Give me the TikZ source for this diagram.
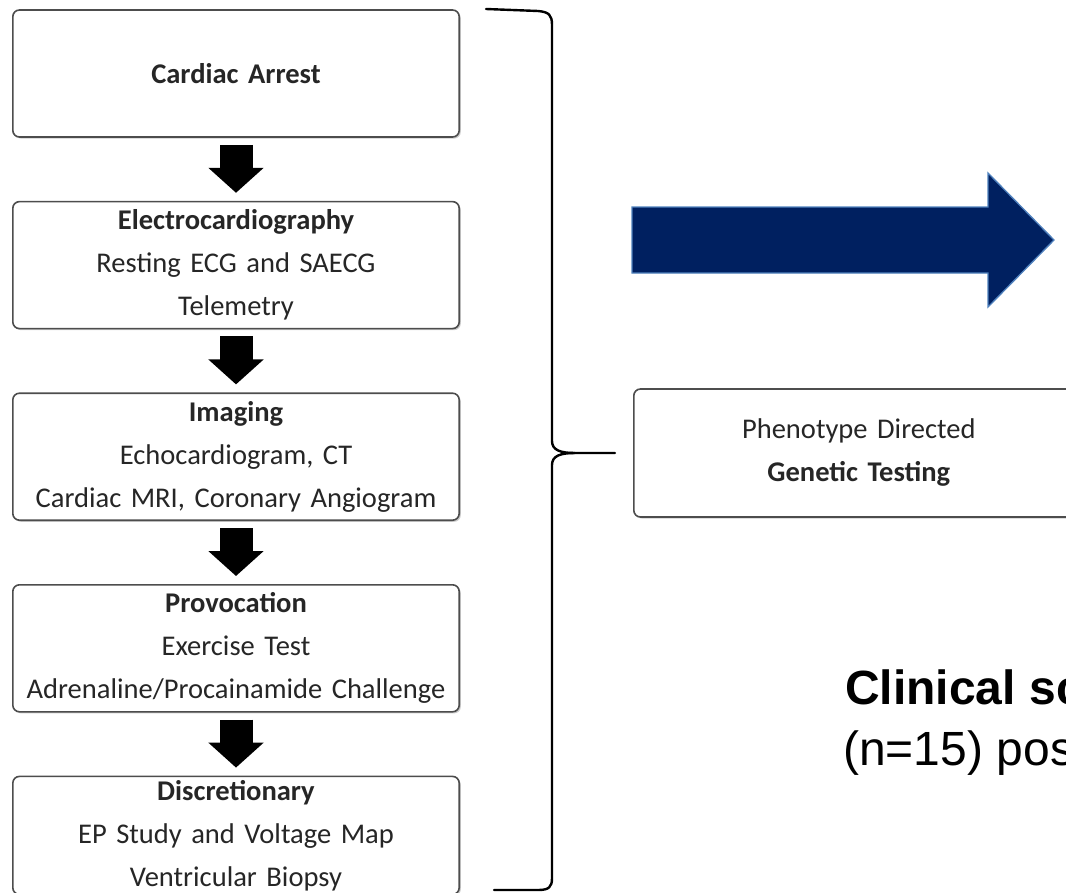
\documentclass[tikz,border=0pt]{standalone}
\usepackage{fontspec}
\setmainfont{Carlito}
\newfontfamily\arialfont{Liberation Sans}
\usetikzlibrary{arrows.meta}
\usetikzlibrary{calc,shadows,positioning}
\usetikzlibrary{chains}

\definecolor{navy}{HTML}{002060}
\definecolor{navyedge}{HTML}{4F81BD}
\definecolor{boxline}{HTML}{4D4D4D}
\definecolor{boxtext}{HTML}{262626}

\begin{document}
\begin{tikzpicture}[x=0.75pt, y=-0.75pt,
        node distance = 47.25pt,
          start chain = A going below,
      basebox/.style = {draw=boxline, line width=1.2pt, rounded corners=5pt,
                        text width=330pt, minimum width=334.8pt, minimum height=95.25pt,
                        align=center, inner sep=0pt, fill=white, text=boxtext,
                        font=\fontsize{21.4}{32.25}\selectfont,
                        drop shadow={shadow xshift=1.2pt, shadow yshift=-1.2pt,
                                     fill=black, opacity=0.2}},
      stepbox/.style = {basebox, on chain=A},
     blockarr/.style = {line width=24.75pt, -{Triangle[width=40.5pt,length=18.75pt]},
                        shorten <=5.25pt, shorten >=6pt},
    bracket/.style = {line width=1.8pt, line cap=round, line join=round},
    bigtext/.style = {anchor=base west, inner sep=0pt,
                      font=\fontsize{36}{42}\selectfont\arialfont},
                            ]
    \useasboundingbox (0,0) rectangle (1066,892);
    \clip (0,0) rectangle (1066,892);
    \node[stepbox] at (236,73.5) {\textbf{Cardiac Arrest}}; % A-1
    \node[stepbox] {\textbf{Electrocardiography}\\Resting ECG and SAECG\\Telemetry};
    \node[stepbox] {\textbf{Imaging}\\Echocardiogram, CT\\Cardiac MRI, Coronary Angiogram};
    \node[stepbox] {\textbf{Provocation}\\Exercise Test\\Adrenaline/Procainamide Challenge};
    \node[stepbox, minimum height=88.5pt] {\textbf{Discretionary}\\EP Study and Voltage Map\\Ventricular Biopsy};
    %
    \foreach \i [count=\j] in {2,...,5}
    {
      \draw[blockarr] (A-\j.south) -- (A-\i.north);
    }
    % brace
    \coordinate (tip) at (615,453);
    \draw[bracket] (486,9) -- (538,11) .. controls (549,12) and (552,15) .. (552,25)
        -- (552,441) .. controls (552,450) and (560,453) .. (575,453) -- (tip);
    \draw[bracket] (575,453) .. controls (560,453) and (552,456) .. (552,465)
        -- (552,878) .. controls (552,887) and (549,890) .. (538,890) -- (494,890);
    \node[basebox, minimum width=337.5pt, minimum height=96pt, anchor=west,
          right=13.5pt of tip] (gene) {Phenotype Directed\\\textbf{Genetic Testing}};
    % big arrow
    \draw[fill=navy, draw=navyedge, line width=1pt]
        (632,207) -- (988,207) -- (988,173) -- (1054,240) -- (988,307)
        -- (988,273) -- (632,273) -- cycle;
    \node[bigtext] (clin) at (845,704) {\bfseries Clinical sc};
    \node[bigtext] (npos) at (843,765) {(n=15) pos};
\end{tikzpicture}
\end{document}
